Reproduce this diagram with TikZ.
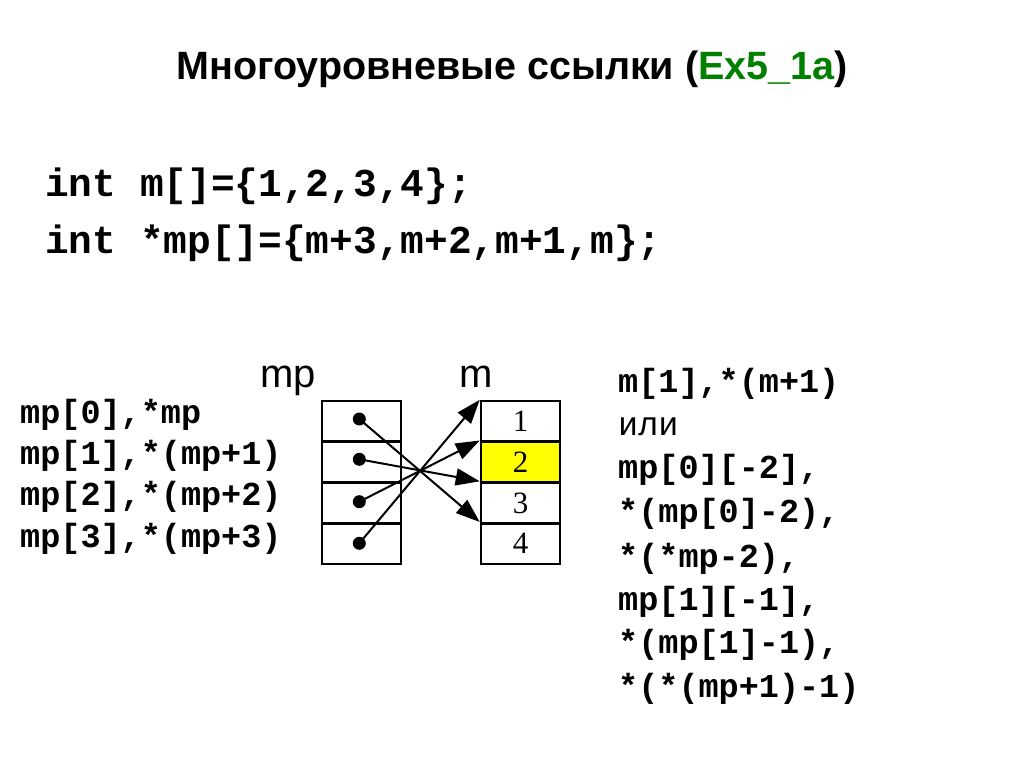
\documentclass[tikz,border=0pt]{standalone}
\usepackage{fontspec}
\setmainfont{Liberation Serif}
\newfontfamily\sansf{Liberation Sans}
\newfontfamily\monof{Liberation Mono}
\usetikzlibrary{arrows.meta}
\definecolor{titlegreen}{RGB}{0,128,0}
\definecolor{cellyellow}{RGB}{255,255,0}
\tikzset{
  cell/.style={draw=black, line width=2.5pt, minimum width=79pt, minimum height=40.75pt, inner sep=0pt, font=\fontsize{31}{31}\selectfont},
  ptrdot/.style={circle, fill=black, minimum size=13pt, inner sep=0pt},
  ptr/.style={line width=2pt, -{Triangle[length=24pt,width=17pt]}},
  codetext/.style={anchor=base west, inner sep=0pt, font=\monof\bfseries\fontsize{39.5}{39.5}\selectfont},
  labtext/.style={anchor=base west, inner sep=0pt, font=\monof\bfseries\fontsize{33.5}{33.5}\selectfont},
  ortext/.style={anchor=base west, inner sep=0pt, font=\monof\fontsize{33.5}{33.5}\selectfont},
  headtext/.style={anchor=base, inner sep=0pt, font=\sansf\fontsize{40}{40}\selectfont}
}
\begin{document}
\begin{tikzpicture}[x=1pt,y=-1pt]
\useasboundingbox[fill=white] (0,0) rectangle (1024,767);
% title
\node[anchor=base, inner sep=0pt, font=\sansf\bfseries\fontsize{39.5}{39.5}\selectfont] (title) at (512,80) {Многоуровневые ссылки (\textcolor{titlegreen}{Ex5\_1a})};
% code
\node[codetext] (code1) at (45,197) {int m[]=\{1,2,3,4\};};
\node[codetext] (code2) at (45,253) {int *mp[]=\{m+3,m+2,m+1,m\};};
% headers
\node[headtext] (hmp) at (288,387) {mp};
\node[headtext] (hm) at (476.5,387) {m};
% left labels
\node[labtext] (l0) at (20,423) {mp[0],*mp};
\node[labtext] (l1) at (20,464.3) {mp[1],*(mp+1)};
\node[labtext] (l2) at (20,505.6) {mp[2],*(mp+2)};
\node[labtext] (l3) at (20,547) {mp[3],*(mp+3)};
% pointer cells
\node[cell] (p0) at (361.5,421.4) {};
\node[cell] (p1) at (361.5,462.1) {};
\node[cell] (p2) at (361.5,502.9) {};
\node[cell] (p3) at (361.5,543.6) {};
% array cells
\node[cell] (m0) at (520.5,421.4) {1};
\node[cell, fill=cellyellow] (m1) at (520.5,462.1) {2};
\node[cell] (m2) at (520.5,502.9) {3};
\node[cell] (m3) at (520.5,543.6) {4};
% dots
\node[ptrdot] (d0) at (359.3,419) {};
\node[ptrdot] (d1) at (359.3,459.3) {};
\node[ptrdot] (d2) at (359.3,501.7) {};
\node[ptrdot] (d3) at (359.3,543.3) {};
% arrows
\draw[ptr] (d0.center) -- (m3.north west);
\draw[ptr] (d1.center) -- (m2.north west);
\draw[ptr] (d2.center) -- (m1.north west);
\draw[ptr] (d3.center) -- (m0.north west);
% right labels
\node[labtext] (r0) at (618,392) {m[1],*(m+1)};
\node[ortext] (r1) at (618,435) {или};
\node[labtext] (r2) at (618,478) {mp[0][-2],};
\node[labtext] (r3) at (618,522) {*(mp[0]-2),};
\node[labtext] (r4) at (618,567) {*(*mp-2),};
\node[labtext] (r5) at (618,610) {mp[1][-1],};
\node[labtext] (r6) at (618,653) {*(mp[1]-1),};
\node[labtext] (r7) at (618,697) {*(*(mp+1)-1)};
\end{tikzpicture}
\end{document}
